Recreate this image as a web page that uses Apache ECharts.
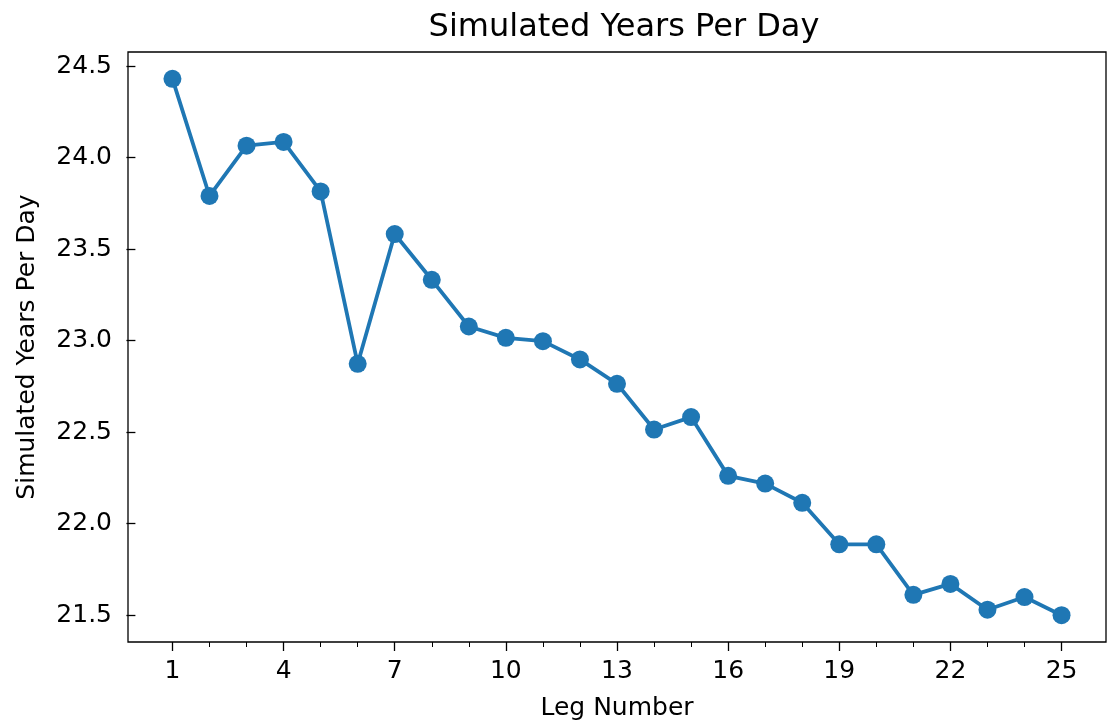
<html>
<head>
    <meta charset="utf-8">
</head>
<body style="margin:0">
    <script src="https://cdn.jsdelivr.net/npm/echarts@6/dist/echarts.min.js"></script>

    <div id="main" style="width: 1108px;height: 722px"></div>

    <script>
// leg number vs simulated years per day
var legs = [1, 2, 3, 4, 5, 6, 7, 8, 9, 10, 11, 12, 13, 14, 15, 16, 17, 18, 19, 20, 21, 22, 23, 24, 25];
var yearsPerDay = [24.43, 23.79, 24.065, 24.085, 23.815, 22.873, 23.582, 23.332, 23.077, 23.015, 22.997, 22.897,
    22.764, 22.514, 22.582, 22.261, 22.219, 22.114, 21.887, 21.887, 21.611, 21.671, 21.53, 21.599, 21.50];
var xTicks = [1, 4, 7, 10, 13, 16, 19, 22, 25];
var yTicks = [21.5, 22.0, 22.5, 23.0, 23.5, 24.0, 24.5];

var font = 'DejaVu Sans';
var myChart = echarts.init(document.getElementById('main'));

var points = legs.map(function (l, i) {
    return [l, yearsPerDay[i]];
});

option = {
    animation: false,
    title: {
        text: 'Simulated Years Per Day',
        left: 619,
        textAlign: 'center',
        top: 7,
        textStyle: { fontFamily: font, fontSize: 32, fontWeight: 'normal', color: '#000' }
    },
    grid: {
        left: 128, right: 2, top: 52, bottom: 80,
        outerBoundsMode: 'none',
        show: true, borderColor: '#000', borderWidth: 1.3
    },
    xAxis: [{
        type: 'value',
        min: -0.2, max: 26.2,
        name: 'Leg Number',
        nameLocation: 'middle',
        nameGap: 54,
        nameTextStyle: { fontFamily: font, fontSize: 25, color: '#000' },
        axisLine: { show: false },
        splitLine: { show: false },
        axisTick: { show: true, customValues: xTicks, length: 9, lineStyle: { color: '#000', width: 1.3 } },
        axisLabel: {
            customValues: xTicks, fontFamily: font, fontSize: 25, color: '#000', margin: 17
        }
    }, {
        // minor ticks at every leg
        type: 'value',
        position: 'bottom',
        min: -0.2, max: 26.2,
        axisLine: { show: false },
        splitLine: { show: false },
        axisTick: { show: true, customValues: legs, length: 5, lineStyle: { color: '#000', width: 1 } },
        axisLabel: { show: false, customValues: legs }
    }],
    yAxis: {
        type: 'value',
        min: 21.3535, max: 24.5765,
        name: 'Simulated Years Per Day',
        nameLocation: 'middle',
        nameGap: 88,
        nameTextStyle: { fontFamily: font, fontSize: 25, color: '#000' },
        axisLine: { show: false },
        splitLine: { show: false },
        axisTick: { show: true, customValues: yTicks, length: 9, lineStyle: { color: '#000', width: 1.3 } },
        axisLabel: {
            customValues: yTicks, fontFamily: font, fontSize: 25, color: '#000', margin: 16,
            formatter: function (v) { return v.toFixed(1); }
        }
    },
    series: [{
        type: 'line',
        data: points,
        symbol: 'circle',
        symbolSize: 18,
        itemStyle: { color: '#1f77b4' },
        lineStyle: { color: '#1f77b4', width: 3.8 }
    }]
};

myChart.setOption(option);
    </script>
</body>
</html>
